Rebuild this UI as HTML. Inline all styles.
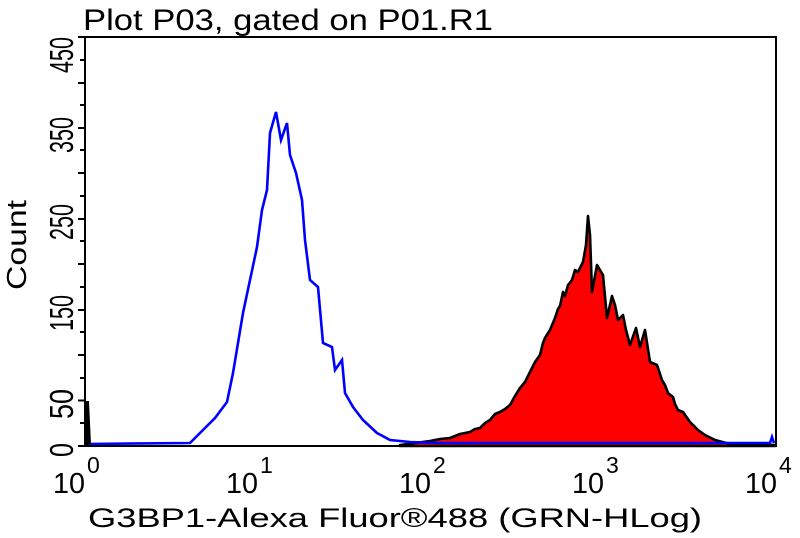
<!DOCTYPE html>
<html><head><meta charset="utf-8"><style>
body{margin:0;background:#fff}
svg{display:block;font-family:"Liberation Sans","DejaVu Sans",sans-serif}
</style></head><body>
<svg width="800" height="538" viewBox="0 0 800 538">
<rect x="0" y="0" width="800" height="538" fill="#fff"/>
<text x="83" y="30" font-size="30" textLength="410" lengthAdjust="spacingAndGlyphs" fill="#000">Plot P03, gated on P01.R1</text>
<path d="M400,445 L430,441 L440,439 L450,438 L460,434 L470,432 L475,429 L480,428 L485,423 L490,420 L495,414 L500,412 L505,409 L510,405 L515,396 L520,388 L525,382 L528,376 L530,372 L535,362 L540,355 L543,343 L545,338 L550,330 L555,318 L558,309 L560,306 L563,292 L565,296 L568,285 L572,280 L575,270 L578,272 L581,266 L583,262 L586,245 L588,216 L590,235 L592,292 L597,265 L600,270 L603,275 L607,318 L612,296 L615,305 L618,320 L623,315 L626,330 L630,345 L636,328 L640,347 L645,330 L650,362 L657,365 L662,380 L665,385 L668,393 L673,397 L675,404 L678,410 L683,412 L690,422 L698,430 L705,435 L715,440 L730,444 L775,445 L775,446 L400,446 Z" fill="#ff0000" stroke="#000" stroke-width="2.6" stroke-linejoin="round"/>
<path d="M86,444 L190,443 L203,430 L215,418 L227,402 L233,373 L243,313 L250,280 L257,247 L262,210 L267,190 L270,133 L276,112 L281,140 L287,123 L290,155 L296,173 L302,200 L305,240 L310,280 L318,287 L323,343 L332,347 L335,370 L342,360 L345,393 L353,407 L363,420 L377,433 L390,440 L410,442 L440,443 L770,443 L772,437 L774,443" fill="none" stroke="#0000ff" stroke-width="2.6"/>
<path d="M85,446 L86,402 L88,402 L90,444" fill="#000" stroke="#000" stroke-width="2"/>
<rect x="85" y="37" width="691" height="409" fill="none" stroke="#000" stroke-width="2"/>
<g stroke="#000" stroke-width="2">
<line x1="78" y1="446" x2="85" y2="446"/><line x1="80" y1="423" x2="85" y2="423"/>
<line x1="78" y1="400.5" x2="85" y2="400.5"/><line x1="80" y1="378" x2="85" y2="378"/>
<line x1="78" y1="355" x2="85" y2="355"/><line x1="80" y1="332" x2="85" y2="332"/>
<line x1="78" y1="310" x2="85" y2="310"/><line x1="80" y1="287" x2="85" y2="287"/>
<line x1="78" y1="264" x2="85" y2="264"/><line x1="80" y1="241" x2="85" y2="241"/>
<line x1="78" y1="219" x2="85" y2="219"/><line x1="80" y1="196" x2="85" y2="196"/>
<line x1="78" y1="173" x2="85" y2="173"/><line x1="80" y1="150" x2="85" y2="150"/>
<line x1="78" y1="128" x2="85" y2="128"/><line x1="80" y1="105" x2="85" y2="105"/>
<line x1="78" y1="83" x2="85" y2="83"/><line x1="80" y1="60" x2="85" y2="60"/>
<line x1="78" y1="37" x2="85" y2="37"/>
</g>
<g id="xt" stroke="#000" stroke-width="2"></g>
<g font-size="33" fill="#000" text-anchor="middle">
<text transform="translate(73,450) rotate(-90)" textLength="14" lengthAdjust="spacingAndGlyphs">0</text>
<text transform="translate(73,404) rotate(-90)" textLength="30" lengthAdjust="spacingAndGlyphs">50</text>
<text transform="translate(73,313) rotate(-90)" textLength="36" lengthAdjust="spacingAndGlyphs">150</text>
<text transform="translate(73,222) rotate(-90)" textLength="36" lengthAdjust="spacingAndGlyphs">250</text>
<text transform="translate(73,135) rotate(-90)" textLength="36" lengthAdjust="spacingAndGlyphs">350</text>
<text transform="translate(73,55) rotate(-90)" textLength="36" lengthAdjust="spacingAndGlyphs">450</text>
</g>
<text transform="translate(26,245) rotate(-90)" font-size="28" text-anchor="middle" textLength="90" lengthAdjust="spacingAndGlyphs">Count</text>
<g font-size="29" fill="#000">
<text x="53" y="493" textLength="32" lengthAdjust="spacingAndGlyphs">10</text><text x="87" y="473" font-size="23">0</text>
<text x="226" y="493" textLength="32" lengthAdjust="spacingAndGlyphs">10</text><text x="260" y="473" font-size="23">1</text>
<text x="399" y="493" textLength="32" lengthAdjust="spacingAndGlyphs">10</text><text x="433" y="473" font-size="23">2</text>
<text x="572" y="493" textLength="32" lengthAdjust="spacingAndGlyphs">10</text><text x="606" y="473" font-size="23">3</text>
<text x="745" y="493" textLength="32" lengthAdjust="spacingAndGlyphs">10</text><text x="779" y="473" font-size="23">4</text>
</g>
<text x="88" y="527" font-size="27" textLength="614" lengthAdjust="spacingAndGlyphs">G3BP1-Alexa Fluor®488 (GRN-HLog)</text>
<script>
var g=document.getElementById('xt'),s='';
for(var d=0;d<4;d++){for(var k=1;k<=10;k++){if(d<3&&k==10)continue;var x=84+173*(d+Math.log10(k));var L=(k==1||k==10)?10:6;s+='<line x1="'+x+'" y1="446" x2="'+x+'" y2="'+(446+L)+'"/>';}}
s+='<line x1="776" y1="446" x2="776" y2="456"/>';
g.innerHTML=s;
</script>
</svg>
</body></html>
